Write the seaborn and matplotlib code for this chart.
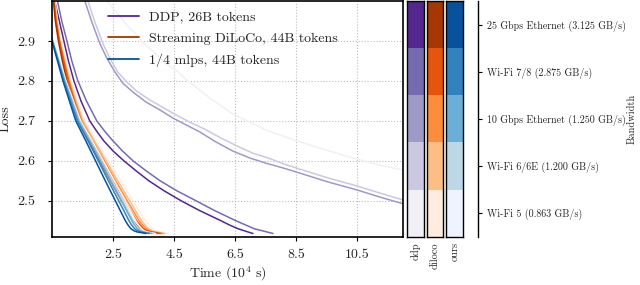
import numpy as np
import matplotlib
matplotlib.use("Agg")
import matplotlib.pyplot as plt
import seaborn as sns
from matplotlib.colors import ListedColormap

# ---------------- data ----------------
methods = ["ddp", "diloco", "ours"]
legend_labels = ["DDP, 26B tokens", "Streaming DiLoCo, 44B tokens", "1/4 mlps, 44B tokens"]
bandwidth_labels = ["25 Gbps Ethernet (3.125 GB/s)", "Wi-Fi 7/8 (2.875 GB/s)",
                    "10 Gbps Ethernet (1.250 GB/s)", "Wi-Fi 6/6E (1.200 GB/s)",
                    "Wi-Fi 5 (0.863 GB/s)"]
x_ticks = [2.5, 4.5, 6.5, 8.5, 10.5]
y_ticks = [2.5, 2.6, 2.7, 2.8, 2.9]

# ours (1/4 mlps): time in 1e4 s at shared loss checkpoints, one list per bandwidth
ours_loss = [2.91, 2.85, 2.80, 2.75, 2.70, 2.65, 2.60, 2.55, 2.50, 2.45, 2.44, 2.43, 2.425, 2.422, 2.418]
ours_time_3125 = [0.45, 0.67, 0.85, 1.06, 1.27, 1.60, 1.92, 2.24, 2.57, 2.90, 2.98, 3.08, 3.18, 3.28, 3.58]
ours_time_2875 = [0.46, 0.69, 0.88, 1.10, 1.32, 1.67, 2.01, 2.34, 2.68, 3.02, 3.10, 3.20, 3.30, 3.40, 3.68]
ours_time_1250 = [0.47, 0.71, 0.91, 1.14, 1.37, 1.73, 2.08, 2.42, 2.77, 3.11, 3.19, 3.29, 3.38, 3.48, 3.76]
ours_time_1200 = [0.47, 0.72, 0.92, 1.16, 1.39, 1.76, 2.11, 2.46, 2.81, 3.16, 3.24, 3.34, 3.43, 3.53, 3.82]
ours_time_0863 = [0.48, 0.74, 0.95, 1.19, 1.43, 1.81, 2.17, 2.53, 2.89, 3.24, 3.32, 3.42, 3.51, 3.61, 3.90]

# Streaming DiLoCo
dil_loss = [3.03, 2.95, 2.90, 2.85, 2.80, 2.75, 2.70, 2.65, 2.60, 2.55, 2.50, 2.45, 2.44, 2.43, 2.425, 2.422, 2.418]
dil_time_3125 = [0.50, 0.60, 0.70, 0.83, 0.98, 1.16, 1.36, 1.70, 2.06, 2.41, 2.77, 3.15, 3.26, 3.38, 3.49, 3.61, 3.94]
dil_time_2875 = [0.51, 0.62, 0.73, 0.87, 1.03, 1.22, 1.43, 1.78, 2.15, 2.51, 2.88, 3.27, 3.38, 3.50, 3.62, 3.74, 4.05]
dil_time_1250 = [0.52, 0.63, 0.74, 0.89, 1.05, 1.25, 1.47, 1.83, 2.21, 2.58, 2.96, 3.35, 3.46, 3.58, 3.70, 3.82, 4.12]
dil_time_1200 = [0.53, 0.65, 0.76, 0.91, 1.08, 1.28, 1.51, 1.88, 2.27, 2.65, 3.04, 3.43, 3.54, 3.66, 3.78, 3.90, 4.20]
dil_time_0863 = [0.54, 0.67, 0.79, 0.95, 1.12, 1.33, 1.57, 1.95, 2.35, 2.75, 3.15, 3.55, 3.67, 3.79, 3.91, 4.03, 4.30]

# DDP
ddp_loss_fast = [3.05, 3.00, 2.95, 2.90, 2.85, 2.80, 2.75, 2.70, 2.675, 2.65, 2.625, 2.60,
                 2.575, 2.55, 2.525, 2.50, 2.475, 2.45, 2.44, 2.43, 2.425, 2.418]
ddp_time_3125 = [0.49, 0.58, 0.73, 0.88, 1.03, 1.21, 1.44, 1.73, 1.95, 2.19, 2.49, 2.85,
                 3.25, 3.67, 4.17, 4.73, 5.35, 6.04, 6.30, 6.60, 6.80, 7.09]
ddp_time_2875 = [0.52, 0.67, 0.81, 0.98, 1.14, 1.34, 1.62, 1.96, 2.21, 2.49, 2.80, 3.15,
                 3.58, 4.04, 4.59, 5.22, 5.84, 6.53, 6.83, 7.13, 7.39, 7.75]
ddp_time_1250 = [1.50, 1.57, 1.80, 2.06, 2.29, 2.56, 2.82, 3.15, 3.58, 4.04, 4.46, 4.92, 5.35,
                 5.88, 6.44, 6.99, 7.52, 8.08, 8.64, 9.56, 10.51, 11.27, 12.02, 12.58]
ddp_loss_1250 = [3.014, 3.0, 2.947, 2.894, 2.857, 2.822, 2.794, 2.772, 2.747, 2.727, 2.707, 2.689, 2.672,
                 2.647, 2.624, 2.607, 2.594, 2.582, 2.569, 2.547, 2.527, 2.509, 2.4925, 2.48]
ddp_time_1200 = [1.64, 1.67, 1.90, 2.16, 2.39, 2.65, 2.95, 3.28, 3.71, 4.17, 4.63, 5.09, 5.51,
                 6.04, 6.57, 7.09, 7.59, 8.11, 8.64, 9.56, 10.51, 11.27, 12.02, 12.58]
ddp_loss_1200 = [3.014, 3.0, 2.947, 2.894, 2.857, 2.822, 2.797, 2.774, 2.752, 2.732, 2.712, 2.694, 2.679,
                 2.657, 2.637, 2.619, 2.607, 2.592, 2.579, 2.557, 2.537, 2.519, 2.502, 2.492]
ddp_time_0863 = [2.19, 2.29, 2.59, 2.89, 3.18, 3.48, 3.84, 4.20, 4.56, 4.92, 5.68, 6.44, 7.52,
                 8.64, 9.62, 10.51, 11.27, 12.02, 12.58]
ddp_loss_0863 = [3.014, 3.0, 2.974, 2.945, 2.922, 2.895, 2.872, 2.845, 2.827, 2.802, 2.757, 2.717, 2.677,
                 2.647, 2.624, 2.604, 2.589, 2.577, 2.567]

# ---------------- styles ----------------
purples = ["#54278f", "#756bb1", "#9e9ac8", "#cbc9e2", "#f2f0f7"]
oranges = ["#a63603", "#e6550d", "#fd8d3c", "#fdbe85", "#feedde"]
blues = ["#08519c", "#3182bd", "#6baed6", "#bdd7e7", "#eff3ff"]

sns.set_theme(style="ticks")
plt.rcParams.update({
    "font.family": ["serif"],
    "font.serif": ["cmr10"],
    "mathtext.fontset": "cm",
    "axes.formatter.use_mathtext": True,
    "axes.unicode_minus": False,
    "font.size": 10,
})

fig = plt.figure(figsize=(6.4, 2.85), dpi=100)
bottom = 1 - 236.7 / 285
height = (236.7 - 1) / 285
ax = fig.add_axes([51.7 / 640, bottom, (403.3 - 51.7) / 640, height])

lw = 1.1
ddp_series = [(ddp_time_3125, ddp_loss_fast), (ddp_time_2875, ddp_loss_fast),
              (ddp_time_1250, ddp_loss_1250), (ddp_time_1200, ddp_loss_1200),
              (ddp_time_0863, ddp_loss_0863)]
dil_series = [(t, dil_loss) for t in [dil_time_3125, dil_time_2875, dil_time_1250, dil_time_1200, dil_time_0863]]
ours_series = [(t, ours_loss) for t in [ours_time_3125, ours_time_2875, ours_time_1250, ours_time_1200, ours_time_0863]]

handles = []
for series, pal in [(ddp_series, purples), (dil_series, oranges), (ours_series, blues)]:
    for i in range(4, -1, -1):
        t, l = series[i]
        sns.lineplot(x=t, y=l, color=pal[i], lw=lw, ax=ax, sort=False, estimator=None)
    handles.append(ax.get_lines()[-1])

ax.set_xlim(0.48, 12.03)
ax.set_ylim(2.41, 3.0)
ax.set_xticks(x_ticks)
ax.set_xticklabels([f"{v:.1f}" for v in x_ticks])
ax.set_yticks(y_ticks)
ax.set_yticklabels([f"{v:.1f}" for v in y_ticks])
ax.grid(True, linestyle=":", color="#bdbdbd", linewidth=0.8)
for s in ax.spines.values():
    s.set_visible(True)
    s.set_linewidth(1.2)
    s.set_color("black")
ax.tick_params(axis="both", direction="out", length=3, width=0.8, labelsize=10, color="black")
ax.tick_params(axis="y", pad=9)
ax.tick_params(axis="x", pad=6)
ax.set_xlabel("Time ($10^4$ s)", fontsize=10, labelpad=2.5)
ax.set_ylabel("Loss", fontsize=10, labelpad=4)

leg = ax.legend(handles, legend_labels, loc="upper left", bbox_to_anchor=(0.161, 0.957),
                frameon=False, fontsize=10, handlelength=2.2, handletextpad=0.7,
                labelspacing=0.6, borderpad=0, borderaxespad=0)
for h in leg.get_lines():
    h.set_linewidth(1.3)

# ---------------- colour bars ----------------
cbar_x = [406.7, 426.7, 446.0]
cbar_w = [17.3, 16.6, 17.3]
levels = np.array([[4], [3], [2], [1], [0]])
for m, pal, x0, w in zip(methods, [purples, oranges, blues], cbar_x, cbar_w):
    cax = fig.add_axes([x0 / 640, bottom, w / 640, height])
    sns.heatmap(levels, cmap=ListedColormap(pal[::-1]), vmin=-0.5, vmax=4.5, cbar=False,
                ax=cax, xticklabels=[m], yticklabels=False)
    for s in cax.spines.values():
        s.set_visible(True)
        s.set_linewidth(1.0)
        s.set_color("black")
    cax.tick_params(axis="x", length=0, pad=4, labelsize=7.5, labelrotation=90)
    cax.tick_params(axis="y", length=0)

# ---------------- bandwidth axis ----------------
bx = 478.3 / 640
bax = fig.add_axes([bx - 0.02, bottom, 0.02, height])
bax.set_facecolor("none")
bax.set_ylim(0, 5)
bax.set_xticks([])
for k in ["left", "top", "bottom"]:
    bax.spines[k].set_visible(False)
bax.spines["right"].set_visible(True)
bax.spines["right"].set_linewidth(1.0)
bax.spines["right"].set_color("black")
bax.yaxis.tick_right()
bax.yaxis.set_label_position("right")
bax.set_yticks([4.5, 3.5, 2.5, 1.5, 0.5])
bax.set_yticklabels(bandwidth_labels)
bax.tick_params(axis="y", direction="out", length=3, width=0.8, pad=3, labelsize=7.2, color="black")
bax.set_ylabel("Bandwidth", fontsize=7.5, labelpad=1)

fig.savefig("out.png", dpi=100)
